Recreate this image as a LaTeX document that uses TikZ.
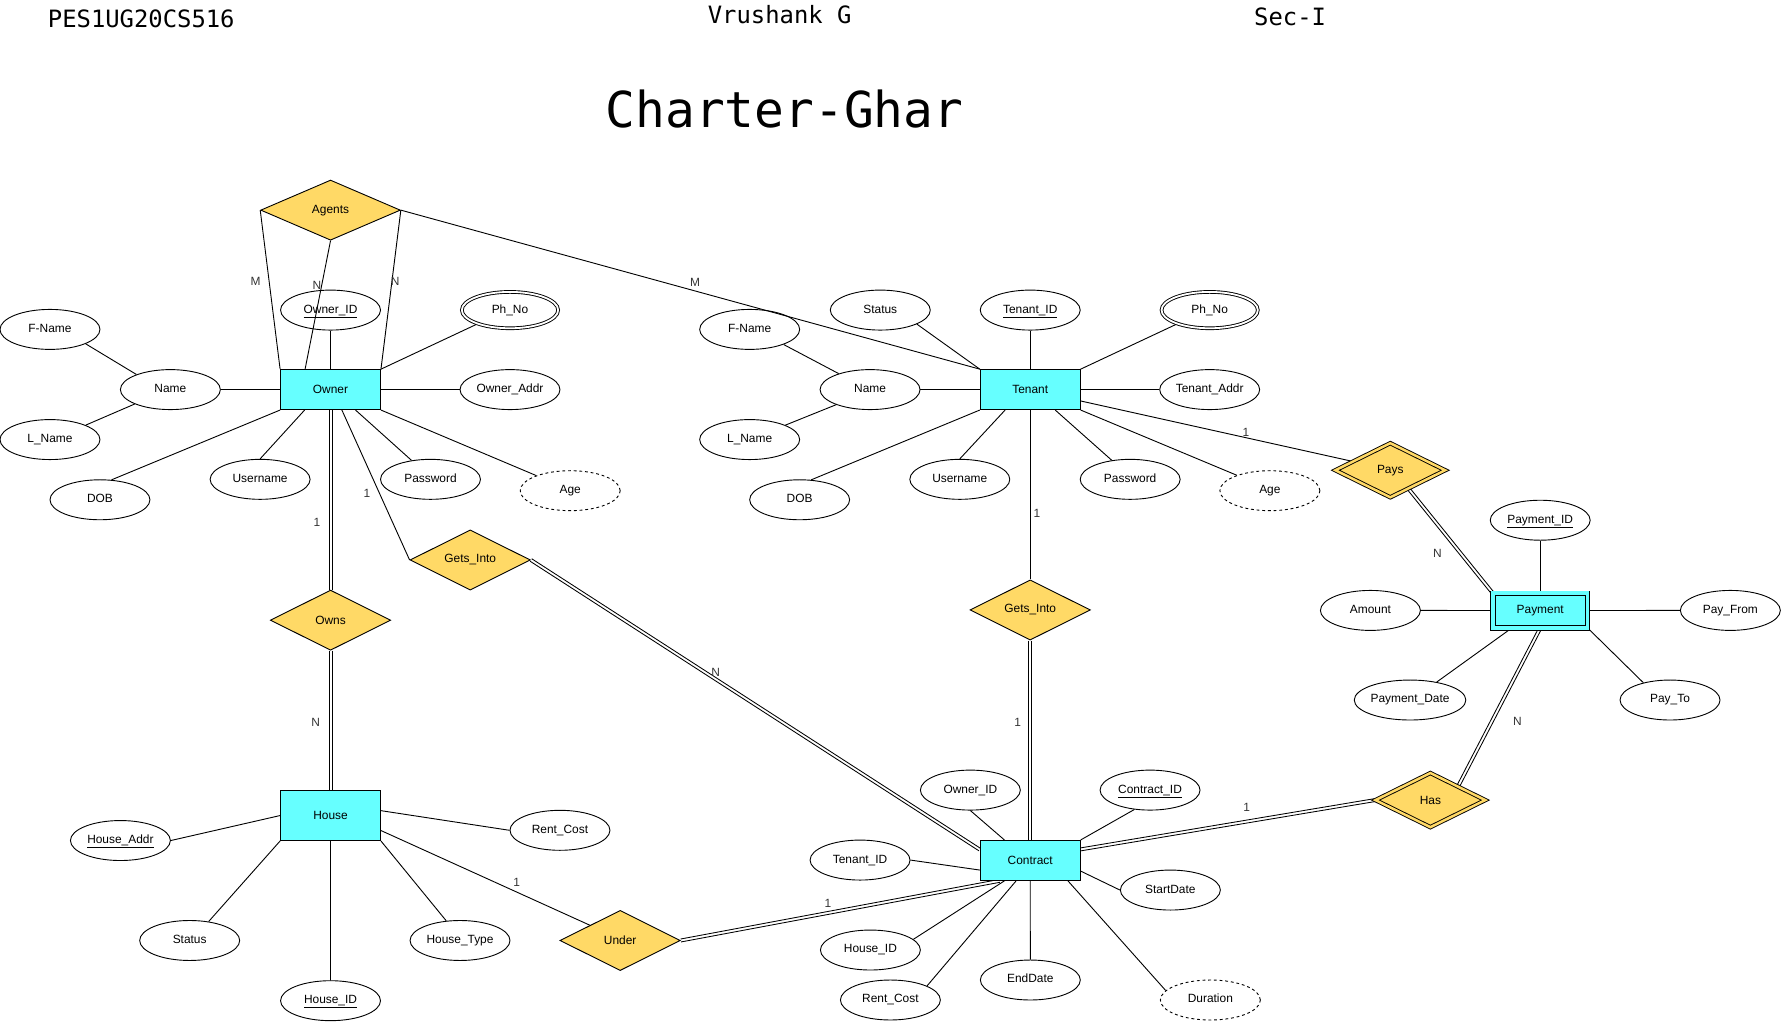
\documentclass[tikz,border=0pt]{standalone}
\usepackage{fontspec}
\setmainfont{Liberation Sans}
\newfontfamily\monof{DejaVu Sans Mono}
\usetikzlibrary{shapes.geometric,calc}
\pgfdeclarelayer{bg}
\pgfsetlayers{bg,main}
\definecolor{entc}{HTML}{66FFFF}
\definecolor{relc}{HTML}{FFD966}
\definecolor{cardc}{HTML}{333333}
\newcommand\dlink[2]{%
  \draw[dconn] ($(#1)!1.3pt!90:(#2)$) -- ($(#2)!1.3pt!-90:(#1)$);
  \draw[dconn] ($(#1)!1.3pt!-90:(#2)$) -- ($(#2)!1.3pt!90:(#1)$);}
\begin{document}
\begin{tikzpicture}[x=1pt,y=-1pt,
  every node/.style={font=\fontsize{10.5}{12}\selectfont},
  attr/.style={ellipse,draw,minimum width=88pt,minimum height=35.2pt,inner sep=0pt,line width=0.8pt,text height=7.6pt,text depth=2.4pt},
  multi/.style={attr,double,double distance=1.6pt,minimum width=84.8pt,minimum height=32pt},
  derived/.style={attr,dash pattern=on 2.5pt off 2.5pt},
  ent/.style={rectangle,draw,fill=entc,minimum width=88pt,minimum height=35.2pt,inner sep=0pt,line width=0.8pt},
  weakent/.style={ent,double=entc,double distance=3.2pt,minimum width=83.2pt,minimum height=30.4pt},
  rel/.style={diamond,draw,fill=relc,shape aspect=2,minimum width=106pt,minimum height=53pt,inner sep=0pt,line width=0.8pt},
  wrel/.style={rel,double=relc,double distance=2.2pt,minimum width=97pt,minimum height=48pt},
  conn/.style={line width=0.8pt},
  dconn/.style={line width=0.75pt},
  card/.style={text=cardc,inner sep=0pt},
  hdr/.style={anchor=west,inner sep=0pt,font=\monof\fontsize{21}{24}\selectfont}
]
\useasboundingbox (0,0) rectangle (1568,899.8);

% header
\node[hdr] (hreg) at (42,17) {PES1UG20CS516};
\node[hdr] (hname) at (623,13) {Vrushank G};
\node[hdr] (hsec) at (1104,15) {Sec-I};
\node[anchor=west,inner sep=0pt,font=\monof\fontsize{43.6}{48}\selectfont] (title) at (533,96) {Charter-Ghar};

% Owner
\node[ent] (owner) at (291,343) {Owner};
\node[rel,minimum width=123pt] (agents) at (291,185) {Agents};
\node[attr] (oid) at (291,273) {\underline{Owner\_ID}};
\node[multi] (ophno) at (449,273) {Ph\_No};
\node[attr] (oname) at (150,343) {Name};
\node[attr] (oaddr) at (449,343) {Owner\_Addr};
\node[attr] (ofn) at (44,290) {F-Name};
\node[attr] (oln) at (44,387) {L\_Name};
\node[attr] (odob) at (88,440) {DOB};
\node[attr] (ouser) at (229,422) {Username};
\node[attr] (opw) at (379,422) {Password};
\node[derived] (oage) at (502,432) {Age};
\node[rel] (ownsrel) at (291,546) {Owns};
\node[rel] (gil) at (414,493) {Gets\_Into};

% House
\node[ent,minimum height=44pt] (house) at (291,718) {House};
\node[attr] (haddr) at (106,740) {\underline{House\_Addr}};
\node[attr] (hst) at (167,828) {Status};
\node[attr] (hhid) at (291,881) {\underline{House\_ID}};
\node[attr] (htype) at (405,828) {House\_Type};
\node[attr] (hrc) at (493,731) {Rent\_Cost};
\node[rel] (under) at (546,828) {Under};

% Tenant
\node[ent] (tenant) at (907,343) {Tenant};
\node[attr] (tst) at (775,273) {Status};
\node[attr] (tid) at (907,273) {\underline{Tenant\_ID}};
\node[multi] (tphno) at (1065,273) {Ph\_No};
\node[attr] (tfn) at (660,290) {F-Name};
\node[attr] (tname) at (766,343) {Name};
\node[attr] (taddr) at (1065,343) {Tenant\_Addr};
\node[attr] (tln) at (660,387) {L\_Name};
\node[attr] (tdob) at (704,440) {DOB};
\node[attr] (tuser) at (845,422) {Username};
\node[attr] (tpw) at (995,422) {Password};
\node[derived] (tage) at (1118,432) {Age};
\node[rel] (gir) at (907,537) {Gets\_Into};

% Payment
\node[wrel] (pays) at (1224,414) {Pays};
\node[weakent] (payment) at (1356,537.5) {Payment};
\node[attr] (pid) at (1356,458) {\underline{Payment\_ID}};
\node[attr] (pamt) at (1206.5,537.4) {Amount};
\node[attr] (pfrom) at (1523.4,537.4) {Pay\_From};
\node[attr] (pdate) at (1241.4,616.3) {Payment\_Date};
\node[attr] (pto) at (1470.3,616.3) {Pay\_To};
\node[wrel] (has) at (1259.3,704.4) {Has};

% Contract
\node[ent] (contract) at (907,757.5) {Contract};
\node[attr] (coid) at (854.3,695.6) {Owner\_ID};
\node[attr] (ccid) at (1012.5,695.6) {\underline{Contract\_ID}};
\node[attr] (ctid) at (757.2,757.2) {Tenant\_ID};
\node[attr] (csd) at (1030.4,783.6) {StartDate};
\node[attr] (chid) at (766.3,836.4) {House\_ID};
\node[attr] (ced) at (907.1,862.8) {EndDate};
\node[attr] (crc) at (783.9,880.4) {Rent\_Cost};
\node[derived] (cdur) at (1065.6,880.4) {Duration};

% cardinality labels
\node[card] (c1) at (225,248) {M};
\node[card] (c2) at (279,251) {N};
\node[card] (c3) at (348,248) {N};
\node[card] (c4) at (612,249) {M};
\node[card] (c5) at (279,460) {1};
\node[card] (c6) at (278,636) {N};
\node[card] (c7) at (323,434) {1};
\node[card] (c8) at (630,592) {N};
\node[card] (c9) at (455,777) {1};
\node[card] (c10) at (729,795) {1};
\node[card] (c11) at (1097,381) {1};
\node[card] (c12) at (913,452) {1};
\node[card] (c13) at (896,636) {1};
\node[card] (c14) at (1265.5,487) {N};
\node[card] (c15) at (1336,635) {N};
\node[card] (c16) at (1097.6,711) {1};

% connector end points
\coordinate (gilend) at ([yshift=-8.5pt]contract.north west);
\coordinate (underend) at ([xshift=17.4pt]contract.south west);
\coordinate (hasend) at ([yshift=9.7pt]contract.east);
\coordinate (paysout) at ($(pays.south)!0.33!(pays.east)$);

\begin{pgfonlayer}{bg}
% Owner
\draw[conn] (owner.west) -- (oname.east);
\draw[conn] (owner.north) -- (oid.south);
\draw[conn] (owner.north east) -- (ophno.203);
\draw[conn] (owner.east) -- (oaddr.west);
\draw[conn] (oname.156) -- (ofn.338);
\draw[conn] (oname.202) -- (oln.22);
\draw[conn] (owner.south west) -- (odob.60);
\draw[conn] ([xshift=21.6pt]owner.south west) -- (ouser.north);
\draw[conn] ([xshift=22pt]owner.south) -- (opw.135);
\draw[conn] (owner.south east) -- (oage.156);
\draw[conn] (agents.west) -- (owner.north west);
\draw[conn] (agents.south) -- ([xshift=22pt]owner.north west);
\draw[conn] (agents.east) -- (owner.north east);
\draw[conn] (agents.east) -- (tenant.north west);
\dlink{owner.south}{ownsrel.north}
\dlink{ownsrel.south}{house.north}
\draw[conn] ([xshift=10pt]owner.south) -- (gil.west);
\dlink{gil.east}{gilend}
% House
\draw[conn] (house.west) -- (haddr.east);
\draw[conn] ([yshift=4.3pt]house.east) -- (hrc.west);
\draw[conn] (house.south west) -- (hst.45);
\draw[conn] (house.south) -- (hhid.north);
\draw[conn] (house.south east) -- (htype.125);
\draw[conn] ([yshift=-13.2pt]house.east) -- (under.north west);
\dlink{under.east}{underend}
% Tenant
\draw[conn] (tenant.north west) -- (tst.339);
\draw[conn] (tenant.north) -- (tid.south);
\draw[conn] (tenant.north east) -- (tphno.203);
\draw[conn] (tenant.east) -- (taddr.west);
\draw[conn] (tenant.west) -- (tname.east);
\draw[conn] (tname.153) -- (tfn.336);
\draw[conn] (tname.204) -- (tln.22);
\draw[conn] (tenant.south west) -- (tdob.60);
\draw[conn] ([xshift=22.3pt]tenant.south west) -- (tuser.north);
\draw[conn] ([xshift=22pt]tenant.south) -- (tpw.134);
\draw[conn] (tenant.south east) -- (tage.155);
\draw[conn] ([yshift=-10pt]tenant.east) -- ($(pays.west)!0.32!(pays.north)$);
\draw[conn] (tenant.south) -- (gir.north);
\dlink{gir.south}{contract.north}
\dlink{paysout}{payment.north west}
% Payment
\draw[conn] (payment.north) -- (pid.south);
\draw[conn] (payment.west) -- (pamt.east);
\draw[conn] (payment.east) -- (pfrom.west);
\draw[conn] ([xshift=16.7pt]payment.south west) -- (pdate.34);
\draw[conn] (payment.south east) -- (pto.147);
\dlink{payment.south}{has.north east}
\dlink{has.west}{hasend}
% Contract
\draw[conn] ([xshift=21.7pt]contract.north west) -- (coid.south);
\draw[conn] (contract.north east) -- (ccid.231);
\draw[conn] ([yshift=-8.5pt]contract.west) -- (ctid.east);
\draw[conn] ([yshift=-9.4pt]contract.east) -- (csd.west);
\draw[conn] ([xshift=21.7pt]contract.south west) -- (chid.14);
\draw[conn] ([xshift=32pt]contract.south west) -- (crc.21);
\draw[conn] (contract.south) -- (ced.north);
\draw[conn] ([xshift=-11.2pt]contract.south east) -- (cdur.168);
\end{pgfonlayer}
\end{tikzpicture}
\end{document}
